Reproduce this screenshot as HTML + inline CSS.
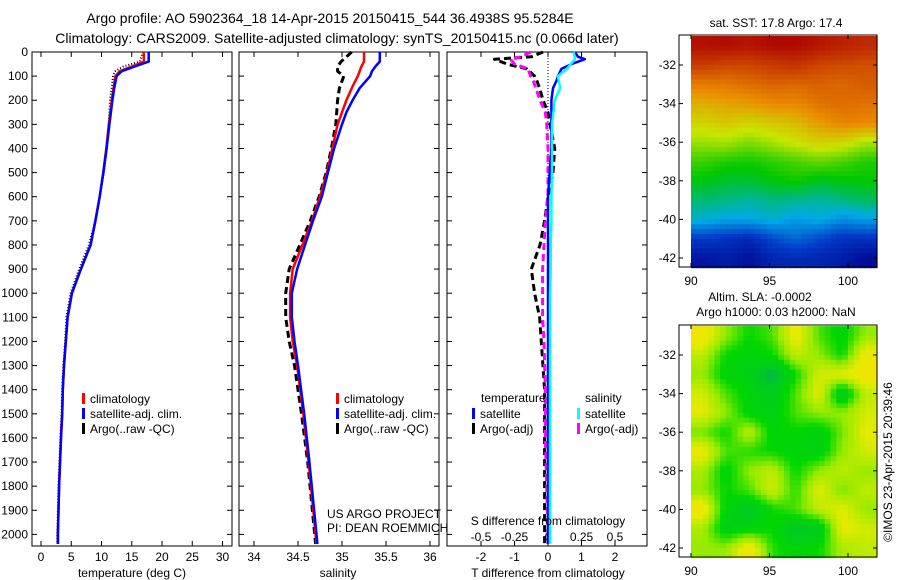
<!DOCTYPE html>
<html><head><meta charset="utf-8"><style>
body{margin:0;background:#fff}
svg{display:block;font-family:"Liberation Sans",sans-serif}
text{fill:#000}
</style></head><body>
<svg id="fig" width="900" height="580" viewBox="0 0 900 580">
<text x="330" y="23" font-size="14" text-anchor="middle">Argo profile: AO 5902364_18 14-Apr-2015 20150415_544 36.4938S 95.5284E</text>
<text x="337" y="43" font-size="14" text-anchor="middle">Climatology: CARS2009. Satellite-adjusted climatology: synTS_20150415.nc (0.066d later)</text>
<g id="maps"></g>
<g id="plots"></g>
</svg>
<script>
// ---- data ----
const tempDepth=[0,40,60,80,100,150,200,300,400,500,600,700,800,900,1000,1100,1200,1300,1400,1500,1600,1800,2000,2040];
const tempClim=[17.0,17.0,15.0,13.0,12.3,12.0,11.7,11.2,10.8,10.3,9.7,9.0,8.2,6.6,5.1,4.4,4.1,3.8,3.6,3.5,3.3,3.0,2.8,2.8];
const tempSat=[17.8,17.8,15.5,13.3,12.5,12.1,11.8,11.3,10.85,10.3,9.7,9.0,8.2,6.6,5.1,4.4,4.1,3.8,3.6,3.5,3.3,3.0,2.8,2.8];
const tempArgo=[16.9,16.3,13.6,12.2,11.9,11.7,11.4,11.2,10.9,10.4,9.7,9.0,7.9,6.3,4.9,4.2,4.0,3.7,3.5,3.4,3.2,2.9,2.7,2.7];
const salDepth=[0,40,60,80,100,150,200,250,300,400,500,600,700,800,900,1000,1100,1200,1300,1500,1700,2000,2040];
const salClim=[35.25,35.25,35.22,35.2,35.18,35.11,35.05,35.0,34.95,34.89,34.83,34.75,34.66,34.55,34.44,34.41,34.41,34.44,34.49,34.56,34.62,34.70,34.71];
const salSat=[35.43,35.43,35.38,35.34,35.32,35.2,35.12,35.05,35.0,34.91,34.84,34.77,34.67,34.58,34.49,34.43,34.43,34.46,34.5,34.57,34.63,34.71,34.72];
const salArgo=[35.11,34.99,34.95,34.95,35.02,34.97,34.95,34.94,34.93,34.88,34.82,34.74,34.64,34.52,34.4,34.36,34.36,34.4,34.46,34.54,34.61,34.69,34.7];
const diffDepth=[0,20,30,50,70,100,120,150,200,250,300,400,500,600,700,800,900,1000,1100,1200,1400,1600,1800,2000,2040];
const dTsat=[0.8,0.9,1.1,0.7,0.4,0.3,0.25,0.15,0.1,0.1,0.1,0.1,0.05,0.0,0.0,0.0,0.0,0.0,0.0,0.0,0.0,0.0,0.0,0.0,0.0];
const dSsat=[0.19,0.2,0.2,0.17,0.14,0.075,0.08,0.09,0.05,0.04,0.03,0.03,0.03,0.025,0.025,0.02,0.02,0.015,0.015,0.015,0.015,0.015,0.015,0.015,0.015];
const dTargo=[-0.15,-0.5,-1.6,-1.22,-0.63,-0.4,-0.33,-0.25,-0.15,0.0,0.06,0.2,0.15,0.0,-0.1,-0.24,-0.5,-0.4,-0.25,-0.2,-0.1,-0.1,-0.1,-0.1,-0.1];
const dSargo=[-0.13,-0.2,-0.28,-0.25,-0.15,-0.13,-0.11,-0.09,-0.06,-0.02,-0.01,0.0,0.0,0.0,-0.02,-0.03,-0.04,-0.04,-0.04,-0.03,-0.02,-0.02,-0.01,0.0,0.0];
const depthTicks=[0,100,200,300,400,500,600,700,800,900,1000,1100,1200,1300,1400,1500,1600,1700,1800,1900,2000];
const tTicks=[0,5,10,15,20,25,30];
const sTicks=[34,34.5,35,35.5,36];
const dTTicks=[-2,-1,0,1,2];
const dSTicks=[-0.5,-0.25,0,0.25,0.5];
const latTicks=[-32,-34,-36,-38,-40,-42];
const lonTicks=[90,95,100];
const sstGrid=[
[0.96,0.97,0.95,0.98,0.98,0.95,0.92,0.9],
[0.86,0.84,0.84,0.86,0.88,0.84,0.83,0.82],
[0.74,0.75,0.77,0.79,0.78,0.79,0.78,0.8],
[0.66,0.68,0.69,0.72,0.72,0.76,0.77,0.76],
[0.6,0.62,0.6,0.62,0.64,0.69,0.73,0.72],
[0.54,0.55,0.52,0.55,0.58,0.61,0.6,0.55],
[0.47,0.45,0.44,0.46,0.48,0.5,0.48,0.45],
[0.42,0.4,0.4,0.42,0.44,0.41,0.42,0.43],
[0.36,0.35,0.33,0.35,0.34,0.33,0.35,0.37],
[0.3,0.28,0.28,0.3,0.27,0.29,0.25,0.27],
[0.14,0.12,0.1,0.16,0.2,0.16,0.12,0.12],
[0.05,0.07,0.04,0.09,0.1,0.09,0.07,0.03]];
const slaGrid=[
[0.9,0.6,0.4,0.5,0.85,0.5,0.35,0.6],
[0.7,0.4,0.35,0.4,0.7,0.6,0.4,0.85],
[0.6,0.35,0.3,0.1,0.4,0.75,0.8,0.9],
[0.75,0.5,0.35,0.25,0.5,0.8,0.2,0.7],
[0.8,0.6,0.35,0.3,0.5,0.6,0.6,0.75],
[0.55,0.4,0.7,0.35,0.4,0.3,0.55,0.8],
[0.85,0.5,0.45,0.4,0.35,0.3,0.6,0.75],
[0.65,0.35,0.6,0.7,0.4,0.6,0.7,0.6],
[0.6,0.4,0.5,0.75,0.45,0.8,0.55,0.7],
[0.9,0.35,0.2,0.4,0.5,0.7,0.8,0.6],
[0.65,0.3,0.35,0.4,0.2,0.25,0.8,0.75],
[0.6,0.6,0.9,0.45,0.35,0.4,0.65,0.7]];

const NS='http://www.w3.org/2000/svg';
function mk(tag,attrs,parent,txt){const e=document.createElementNS(NS,tag);for(const k in attrs)e.setAttribute(k,attrs[k]);if(txt!==undefined)e.textContent=txt;parent.appendChild(e);return e;}
const plots=document.getElementById('plots');
const maps=document.getElementById('maps');
const Y0=52,PXM=0.2412,BOT=546;
const yD=d=>Y0+d*PXM;
const xT=t=>41+t*6.05;
const xS=s=>254+(s-34)*88;
const xDT=t=>548+t*33.5;
const xDS=s=>xDT(s*4);

function panel(x0,x1,name,leftLabels){
  const g=mk('g',{},plots);
  
  
  mk('rect',{x:x0,y:Y0,width:x1-x0,height:BOT-Y0,fill:'none',stroke:'#000','stroke-width':1},g);
  depthTicks.forEach(d=>{const y=yD(d);
    mk('line',{x1:x0,x2:x0+5,y1:y,y2:y,stroke:'#000'},g);
    mk('line',{x1:x1-5,x2:x1,y1:y,y2:y,stroke:'#000'},g);
    if(leftLabels){const t=mk('text',{x:x0-4,y:y+4,'font-size':12,'text-anchor':'end'},g,String(d));
      
      }
  });
  return g;
}
function xticks(g,ticks,fx,ty,labels){
  ticks.forEach((v,i)=>{const x=fx(v);
    mk('line',{x1:x,x2:x,y1:Y0,y2:Y0+5,stroke:'#000'},g);
    mk('line',{x1:x,x2:x,y1:BOT-5,y2:BOT,stroke:'#000'},g);
    if(ty){const t=mk('text',{x:x,y:ty,'font-size':12,'text-anchor':'middle'},g,labels?labels[i]:String(v));
      
      }
  });
}
function line(g,fx,vals,depths,color,w,dash,name){
  const pts=vals.map((v,i)=>fx(v).toFixed(1)+','+yD(depths[i]).toFixed(1)).join(' ');
  const p=mk('polyline',{points:pts,fill:'none',stroke:color,'stroke-width':w,'stroke-linejoin':'round'},g);
  if(dash)p.setAttribute('stroke-dasharray',dash);
  
  
}
function legend(g,x,y,items){
  items.forEach((it,i)=>{const yy=y+i*15;
    const r=mk('rect',{x:x,y:yy-9,width:3,height:11,fill:it[0]},g);
    
    
    const t=mk('text',{x:x+8,y:yy+1,'font-size':12},g,it[1]);
    
    
  });
}
// panel 1
const p1=panel(32,232,'temperature-panel',true);
xticks(p1,tTicks,xT,561);
mk('text',{x:132,y:577,'font-size':12,'text-anchor':'middle'},p1,'temperature (deg C)');
line(p1,xT,tempArgo,tempDepth,'#000',2,'1,2','temp-argo-line');
line(p1,xT,tempClim,tempDepth,'#f00',2.5,null,'temp-clim-line');
line(p1,xT,tempSat,tempDepth,'#00f',2.5,null,'temp-sat-line');
legend(p1,82,402,[['#f00','climatology'],['#00f','satellite-adj. clim.'],['#000','Argo(..raw -QC)']]);
// panel 2
const p2=panel(239,439,'salinity-panel',false);
xticks(p2,sTicks,xS,561,['34','34.5','35','35.5','36']);
mk('text',{x:338,y:577,'font-size':12,'text-anchor':'middle'},p2,'salinity');
line(p2,xS,salArgo,salDepth,'#000',3,'7,4','sal-argo-line');
line(p2,xS,salClim,salDepth,'#f00',2.5,null,'sal-clim-line');
line(p2,xS,salSat,salDepth,'#00f',2.5,null,'sal-sat-line');
legend(p2,336,402,[['#f00','climatology'],['#00f','satellite-adj. clim.'],['#000','Argo(..raw -QC)']]);
mk('text',{x:327,y:518,'font-size':12},p2,'US ARGO PROJECT');
mk('text',{x:327,y:532,'font-size':12},p2,'PI: DEAN ROEMMICH');
// panel 3
const p3=panel(447,647,'difference-panel',false);
xticks(p3,dTTicks,xDT,561);
dSTicks.forEach((v,i)=>{mk('text',{x:xDS(v),y:541,'font-size':12,'text-anchor':'middle'},p3,['-0.5','-0.25','0','0.25','0.5'][i]);});
mk('line',{x1:548,x2:548,y1:Y0,y2:BOT,stroke:'#000','stroke-dasharray':'1,2'},p3);
line(p3,xDT,dTargo,diffDepth,'#000',3,'7,4','dT-argo-line');
line(p3,xDS,dSargo,diffDepth,'#f0f',3,'7,4','dS-argo-line');
line(p3,xDT,dTsat,diffDepth,'#00f',2.5,null,'dT-sat-line');
line(p3,xDS,dSsat,diffDepth,'#0ff',2.5,null,'dS-sat-line');
mk('text',{x:548,y:525,'font-size':12,'text-anchor':'middle'},p3,'S difference from climatology');
mk('text',{x:548,y:577,'font-size':12,'text-anchor':'middle'},p3,'T difference from climatology');
mk('text',{x:481,y:402,'font-size':12},p3,'temperature');
mk('text',{x:585,y:402,'font-size':12},p3,'salinity');
legend(p3,472,417,[['#00f','satellite'],['#000','Argo(-adj)']]);
legend(p3,577,417,[['#0ff','satellite'],['#f0f','Argo(-adj)']]);

// ---- maps ----
function interp(stops,v){v=Math.max(0,Math.min(1,v));const n=stops.length-1;const f=v*n;const i=Math.min(n-1,Math.floor(f));const t=f-i;
  const a=stops[i],b=stops[i+1];return 'rgb('+[0,1,2].map(k=>Math.round(a[k]+(b[k]-a[k])*t)).join(',')+')';}
const sstPal=[[0,0,140],[0,60,200],[0,170,230],[0,200,0],[200,230,0],[235,140,0],[200,60,0],[170,0,0]];
const slaPal=[[0,160,120],[0,200,40],[0,215,0],[150,235,0],[230,235,0],[250,220,0]];
const latY=(lat,top)=>top+30+(-32-lat)*19.3;
const lonX=lon=>691+(lon-90)*15.7;
function sample(grid,fr,fc){
  const rows=grid.length,cols=grid[0].length;
  fr=Math.max(0,Math.min(rows-1,fr));fc=Math.max(0,Math.min(cols-1,fc));
  const r0=Math.floor(fr),c0=Math.floor(fc),r1=Math.min(rows-1,r0+1),c1=Math.min(cols-1,c0+1);
  const tr=fr-r0,tc=fc-c0;
  return (grid[r0][c0]*(1-tc)+grid[r0][c1]*tc)*(1-tr)+(grid[r1][c0]*(1-tc)+grid[r1][c1]*tc)*tr;
}
function mapPanel(top,grid,pal,name){
  const g=mk('g',{},maps);
  
  
  const rows=grid.length,cols=grid[0].length,SUB=4;
  const y0=latY(-30.5,top),y1=latY(-42.5,top),x0=lonX(90),x1=877;
  const cw=(x1-x0)/(cols*SUB),ch=(y1-y0)/(rows*SUB);
  for(let r=0;r<rows*SUB;r++)for(let c=0;c<cols*SUB;c++){
    const v=sample(grid,(r+0.5)/SUB-0.5,(c+0.5)/SUB-0.5);
    const cell=mk('rect',{x:(x0+c*cw).toFixed(1),y:(y0+r*ch).toFixed(1),width:(cw+0.6).toFixed(1),height:(ch+0.6).toFixed(1),fill:interp(pal,v)},g);
    
    
  }
  mk('rect',{x:679,y:top,width:198,height:232,fill:'none',stroke:'#000'},g);
  latTicks.forEach(l=>{const y=latY(l,top);
    mk('line',{x1:679,x2:683,y1:y,y2:y,stroke:'#000'},g);
    mk('line',{x1:873,x2:877,y1:y,y2:y,stroke:'#000'},g);
    mk('text',{x:676,y:y+4,'font-size':12,'text-anchor':'end'},g,String(l));});
  lonTicks.forEach(l=>{const x=lonX(l);
    mk('line',{x1:x,x2:x,y1:top,y2:top+4,stroke:'#000'},g);
    mk('line',{x1:x,x2:x,y1:top+228,y2:top+232,stroke:'#000'},g);
    mk('text',{x:x,y:top+250,'font-size':12,'text-anchor':'middle'},g,String(l));});
}
mapPanel(35,sstGrid,sstPal,'sst-map');
mapPanel(325,slaGrid,slaPal,'sla-map');
mk('text',{x:776,y:27,'font-size':12,'text-anchor':'middle'},maps,'sat. SST: 17.8 Argo: 17.4');
mk('text',{x:760,y:301,'font-size':12,'text-anchor':'middle'},maps,'Altim. SLA: -0.0002');
mk('text',{x:776,y:316,'font-size':12,'text-anchor':'middle'},maps,'Argo h1000: 0.03 h2000: NaN');
mk('text',{x:892,y:462,'font-size':12,'text-anchor':'middle',transform:'rotate(-90 892 462)'},maps,'©IMOS 23-Apr-2015 20:39:46');
</script>
</body></html>
